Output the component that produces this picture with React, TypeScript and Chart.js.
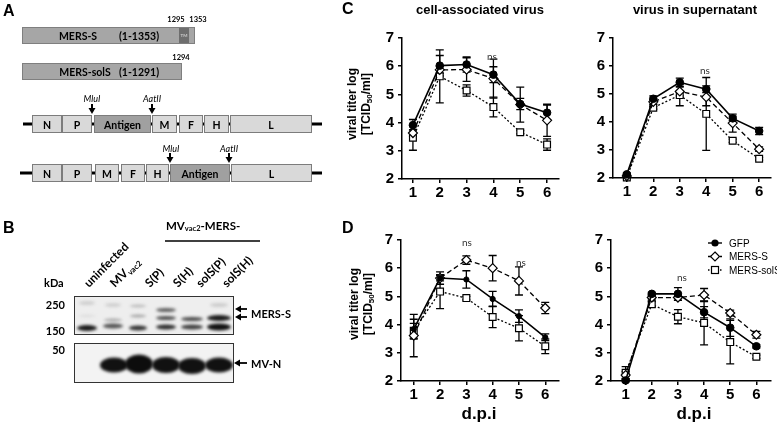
import React, { useEffect, useRef } from "react";
import { Chart, registerables } from "chart.js";
Chart.register(...registerables);

// ---------- data ----------
const days = [1, 2, 3, 4, 5, 6];
const yTickValues = [2, 3, 4, 5, 6, 7];
const seriesNames = ["GFP", "MERS-S", "MERS-solS"];

// C – cell-associated virus
const cCellGFP = [3.91, 6.02, 6.06, 5.7, 4.66, 4.35];
const cCellGFPErr = [0.2, 0.36, 0.27, 0.28, 0.2, 0.27];
const cCellS = [3.63, 5.87, 5.88, 5.56, 4.64, 4.08];
const cCellSErr = [0.12, 0.12, 0.42, 0.69, 0.62, 0.57];
const cCellSol = [3.46, 5.64, 5.14, 4.55, 3.66, 3.22];
const cCellSolErr = [0.44, 0.94, 0.2, 0.35, 0.06, 0.2];

// C – virus in supernatant
const cSupGFP = [2.13, 4.83, 5.42, 5.17, 4.13, 3.68];
const cSupGFPErr = [0.05, 0.1, 0.15, 0.12, 0.08, 0.13];
const cSupS = [2.07, 4.72, 5.09, 4.89, 3.96, 3.03];
const cSupSErr = [0.05, 0.08, 0.16, 0.31, 0.32, 0.08];
const cSupSol = [2.02, 4.51, 4.96, 4.29, 3.33, 2.69];
const cSupSolErr = [0.05, 0.05, 0.38, 1.3, 0.06, 0.05];

// D – cell-associated virus
const dCellGFP = [3.84, 5.65, 5.6, 4.91, 4.3, 3.55];
const dCellGFPErr = [0.35, 0.22, 0.31, 0.27, 0.22, 0.12];
const dCellS = [3.61, 5.65, 6.29, 6.0, 5.55, 4.59];
const dCellSErr = [0.75, 0.1, 0.15, 0.45, 0.5, 0.2];
const dCellSol = [3.78, 5.17, 4.94, 4.27, 3.87, 3.23];
const dCellSolErr = [0.26, 0.6, 0.06, 0.38, 0.45, 0.26];

// D – virus in supernatant
const dSupGFP = [2.02, 5.09, 5.09, 4.44, 3.89, 3.23];
const dSupGFPErr = [0.05, 0.05, 0.22, 0.2, 0.31, 0.06];
const dSupS = [2.21, 4.96, 4.96, 5.05, 4.41, 3.64];
const dSupSErr = [0.12, 0.08, 0.1, 0.23, 0.1, 0.12];
const dSupSol = [2.29, 4.72, 4.28, 4.06, 3.38, 2.86];
const dSupSolErr = [0.22, 0.1, 0.25, 0.78, 0.77, 0.06];

const ARIAL = "'Liberation Sans', Arial, sans-serif";
const LATO = "Lato, 'Open Sans', sans-serif";

type Geo = {
  left: number; top: number; width: number; height: number;
  aL: number; aT: number; aR: number; aB: number; x1: number; x6: number;
};

const errorBarPlugin = {
  id: "errorBars",
  beforeDatasetsDraw(chart: any) {
    const ctx = chart.ctx;
    const xs = chart.scales.x;
    const ys = chart.scales.y;
    ctx.save();
    ctx.strokeStyle = "#000";
    ctx.lineWidth = 1.3;
    ctx.setLineDash([]);
    chart.data.datasets.forEach((ds: any) => {
      ds.data.forEach((p: any, i: number) => {
        const e = ds.errors[i];
        if (!e) return;
        const x = xs.getPixelForValue(p.x);
        const y1 = ys.getPixelForValue(p.y + e);
        const y2 = ys.getPixelForValue(p.y - e);
        ctx.beginPath();
        ctx.moveTo(x, y1);
        ctx.lineTo(x, y2);
        ctx.moveTo(x - 4, y1);
        ctx.lineTo(x + 4, y1);
        ctx.moveTo(x - 4, y2);
        ctx.lineTo(x + 4, y2);
        ctx.stroke();
      });
    });
    ctx.restore();
  },
};

function LineChart(props: {
  geo: Geo; gfp: number[]; gfpErr: number[]; s: number[]; sErr: number[];
  sol: number[]; solErr: number[]; dot: number;
}) {
  const ref = useRef<HTMLCanvasElement>(null);
  const { geo } = props;
  useEffect(() => {
    const ppu = (geo.x6 - geo.x1) / 5;
    const xMin = 1 - (geo.x1 - geo.aL) / ppu;
    const xMax = 6 + (geo.aR - geo.x6) / ppu;
    const mk = (vals: number[]) => days.map((d, i) => ({ x: d, y: vals[i] }));
    const tickFont = { family: ARIAL, size: 15, weight: "bold" as const };
    const grid = {
      display: true, drawOnChartArea: false, drawTicks: true, tickLength: 4,
      color: "#000", lineWidth: 1.5,
    };
    const border = { display: true, color: "#000", width: 1.5 };
    const chart = new Chart(ref.current!, {
      type: "line",
      data: {
        datasets: [
          {
            label: seriesNames[0], data: mk(props.gfp), errors: props.gfpErr,
            borderColor: "#000", borderWidth: 1.6, pointStyle: "circle",
            pointRadius: props.dot, pointBackgroundColor: "#000", pointBorderColor: "#000",
            pointBorderWidth: 1, tension: 0, clip: false, fill: false,
          } as any,
          {
            label: seriesNames[1], data: mk(props.s), errors: props.sErr,
            borderColor: "#000", borderWidth: 1.3, borderDash: [5, 3], pointStyle: "rectRot",
            pointRadius: 4.5, pointBackgroundColor: "#fff", pointBorderColor: "#000",
            pointBorderWidth: 1.2, tension: 0, clip: false, fill: false,
          } as any,
          {
            label: seriesNames[2], data: mk(props.sol), errors: props.solErr,
            borderColor: "#000", borderWidth: 1.3, borderDash: [2, 2], pointStyle: "rect",
            pointRadius: 4.8, pointBackgroundColor: "#fff", pointBorderColor: "#000",
            pointBorderWidth: 1.2, tension: 0, clip: false, fill: false,
          } as any,
        ],
      },
      options: {
        animation: false,
        responsive: false,
        maintainAspectRatio: false,
        layout: {
          padding: { top: geo.aT - geo.top, right: geo.left + geo.width - geo.aR, left: 0, bottom: 0 },
        },
        plugins: { legend: { display: false }, tooltip: { enabled: false } },
        scales: {
          x: {
            type: "linear", min: xMin, max: xMax,
            afterBuildTicks: (sc: any) => { sc.ticks = days.map((v) => ({ value: v })); },
            afterFit: (sc: any) => { sc.height = geo.top + geo.height - geo.aB; },
            ticks: {
              font: tickFont, color: "#000", padding: 1, maxRotation: 0, autoSkip: false,
              callback: (v: any) => String(v),
            },
            grid, border,
          },
          y: {
            type: "linear", min: 2, max: 7,
            afterBuildTicks: (sc: any) => { sc.ticks = yTickValues.map((v) => ({ value: v })); },
            afterFit: (sc: any) => { sc.width = geo.aL - geo.left; },
            ticks: { font: tickFont, color: "#000", padding: 4, callback: (v: any) => String(v) },
            grid, border,
          },
        },
      } as any,
      plugins: [errorBarPlugin],
    });
    return () => chart.destroy();
  }, []);
  return (
    <canvas
      ref={ref}
      width={geo.width}
      height={geo.height}
      style={{ position: "absolute", left: geo.left, top: geo.top, width: geo.width, height: geo.height }}
    />
  );
}

function Blot() {
  const ref = useRef<HTMLCanvasElement>(null);
  useEffect(() => {
    const ctx = ref.current!.getContext("2d")!;
    ctx.fillStyle = "#fff";
    ctx.fillRect(0, 0, 160, 87);
    ctx.fillStyle = "#eeeeee";
    ctx.fillRect(0, 0, 160, 38);
    ctx.fillStyle = "#f3f3f3";
    ctx.fillRect(0, 47, 160, 40);
    const upper: [number, number, number, number, string][] = [
      [13, 7, 16, 4, "#cfcfcf"], [13, 20, 16, 3, "#dedede"], [13, 32, 20, 6, "#1a1a1a"],
      [39, 9, 16, 4, "#d0d0d0"], [39, 24, 18, 3, "#a8a8a8"], [39, 30, 20, 5, "#555"],
      [64, 10, 16, 3, "#bbbbbb"], [64, 20, 16, 3, "#a5a5a5"], [64, 32, 18, 5, "#333"],
      [92, 14, 20, 4, "#606060"], [92, 22, 20, 4, "#505050"], [92, 31, 20, 5, "#2d2d2d"],
      [118, 23, 22, 4, "#4a4a4a"], [118, 31, 22, 5, "#404040"],
      [145, 9, 18, 4, "#cccccc"], [145, 22, 24, 6, "#1a1a1a"], [145, 31, 24, 7, "#111"],
    ];
    const lower: [number, number, number, number, string][] = [
      [40, 69, 28, 15, "#111"], [65, 68, 28, 19, "#0d0d0d"], [92, 69, 28, 16, "#111"],
      [118, 70, 28, 16, "#111"], [145, 69, 28, 15, "#111"],
    ];
    const draw = (list: [number, number, number, number, string][], y0: number, h: number) => {
      ctx.save();
      ctx.beginPath();
      ctx.rect(0, y0, 160, h);
      ctx.clip();
      ctx.filter = "blur(1.6px)";
      for (const [x, y, w, hh, c] of list) {
        ctx.fillStyle = c;
        ctx.beginPath();
        ctx.ellipse(x, y, w / 2, hh / 2, 0, 0, Math.PI * 2);
        ctx.fill();
      }
      ctx.restore();
    };
    draw(upper, 0, 38);
    draw(lower, 47, 40);
  }, []);
  return (
    <canvas ref={ref} width={160} height={87}
      style={{ position: "absolute", left: 74, top: 296, width: 160, height: 87 }} />
  );
}

function T(p: any) {
  const { x, y, size, bold, italic, anchor, fam, fill, children, ...rest } = p;
  return (
    <text x={x} y={y} fontSize={size} fontWeight={bold ? "bold" : "normal"}
      fontStyle={italic ? "italic" : "normal"} textAnchor={anchor || "middle"}
      dominantBaseline="central" fontFamily={fam || LATO} fill={fill || "#000"} {...rest}>
      {children}
    </text>
  );
}

type GBox = [string, number, number, boolean];
function GenomeRow({ y, lx1, boxes }: { y: number; lx1: number; boxes: GBox[] }) {
  return (
    <g>
      <line x1={lx1} x2={322} y1={y + 9} y2={y + 9} stroke="#000" strokeWidth={3} />
      {boxes.map(([lab, a, b, dark]) => (
        <g key={lab}>
          <rect x={a + 0.5} y={y + 0.5} width={b - a} height={17}
            fill={dark ? "#a0a0a0" : "#d9d9d9"} stroke="#7c7c7c" strokeWidth={1} />
          <T x={(a + b) / 2 + 0.5} y={y + 9.5} size={10.5} bold>{lab}</T>
        </g>
      ))}
    </g>
  );
}

function DownArrow({ x, y1, y2 }: { x: number; y1: number; y2: number }) {
  return (
    <g>
      <line x1={x} x2={x} y1={y1} y2={y2 - 5} stroke="#000" strokeWidth={2} />
      <polygon points={`${x - 3.5},${y2 - 6} ${x + 3.5},${y2 - 6} ${x},${y2}`} fill="#000" />
    </g>
  );
}

function LeftArrow({ x1, x2, y }: { x1: number; x2: number; y: number }) {
  return (
    <g>
      <line x1={x1 + 5} x2={x2} y1={y} y2={y} stroke="#000" strokeWidth={1.8} />
      <polygon points={`${x1},${y} ${x1 + 6},${y - 3.5} ${x1 + 6},${y + 3.5}`} fill="#000" />
    </g>
  );
}

function YTitle({ cx, cy }: { cx: number; cy: number }) {
  return (
    <g>
      <text transform={`translate(${cx - 7},${cy}) rotate(-90)`} textAnchor="middle"
        dominantBaseline="central" fontFamily={ARIAL} fontWeight="bold" fontSize={12}>
        viral titer log
      </text>
      <text transform={`translate(${cx + 7},${cy}) rotate(-90)`} textAnchor="middle"
        dominantBaseline="central" fontFamily={ARIAL} fontWeight="bold" fontSize={12}>
        [TCID<tspan fontSize={8} dy={3}>50</tspan><tspan dy={-3}>/ml]</tspan>
      </text>
    </g>
  );
}

function Legend({ x, y }: { x: number; y: number }) {
  const rows = [0, 13.5, 27];
  return (
    <g>
      {seriesNames.map((n, i) => {
        const yy = y + rows[i];
        const dash = i === 0 ? undefined : i === 1 ? "4,2" : "1.5,1.5";
        return (
          <g key={n}>
            <line x1={x} x2={x + 14} y1={yy} y2={yy} stroke="#000" strokeWidth={1.4} strokeDasharray={dash} />
            {i === 0 && <circle cx={x + 7} cy={yy} r={3.6} fill="#000" />}
            {i === 1 && (
              <polygon points={`${x + 7},${yy - 4.5} ${x + 11.5},${yy} ${x + 7},${yy + 4.5} ${x + 2.5},${yy}`}
                fill="#fff" stroke="#000" strokeWidth={1.2} />
            )}
            {i === 2 && <rect x={x + 3.5} y={yy - 3.5} width={7} height={7} fill="#fff" stroke="#000" strokeWidth={1.2} />}
            <T x={x + 21} y={yy} size={10} fam={ARIAL} anchor="start">{n}</T>
          </g>
        );
      })}
    </g>
  );
}

const geoCL: Geo = { left: 372, top: 25, width: 193, height: 180, aL: 402, aT: 35, aR: 560, aB: 179, x1: 413, x6: 548 };
const geoCR: Geo = { left: 586, top: 25, width: 191, height: 180, aL: 613, aT: 35, aR: 773, aB: 178, x1: 627, x6: 761 };
const geoDL: Geo = { left: 372, top: 227, width: 193, height: 180, aL: 401, aT: 237, aR: 562, aB: 381, x1: 414, x6: 548 };
const geoDR: Geo = { left: 586, top: 227, width: 191, height: 180, aL: 611, aT: 238, aR: 775, aB: 381, x1: 626, x6: 760 };

export default function App() {
  const laneLabels: [number, React.ReactNode][] = [
    [89, "uninfected"],
    [115, <>MV<tspan fontSize={8} dy={2.5}>vac2</tspan></>],
    [150, "S(P)"],
    [178, "S(H)"],
    [201, "solS(P)"],
    [227, "solS(H)"],
  ];
  return (
    <div style={{ position: "absolute", left: 0, top: 0, width: 777, height: 423, background: "#fff", overflow: "hidden" }}>
      <LineChart geo={geoCL} gfp={cCellGFP} gfpErr={cCellGFPErr} s={cCellS} sErr={cCellSErr} sol={cCellSol} solErr={cCellSolErr} dot={3.8} />
      <LineChart geo={geoCR} gfp={cSupGFP} gfpErr={cSupGFPErr} s={cSupS} sErr={cSupSErr} sol={cSupSol} solErr={cSupSolErr} dot={3.8} />
      <LineChart geo={geoDL} gfp={dCellGFP} gfpErr={dCellGFPErr} s={dCellS} sErr={dCellSErr} sol={dCellSol} solErr={dCellSolErr} dot={2.6} />
      <LineChart geo={geoDR} gfp={dSupGFP} gfpErr={dSupGFPErr} s={dSupS} sErr={dSupSErr} sol={dSupSol} solErr={dSupSolErr} dot={3.8} />
      <Blot />
      <svg width={777} height={423} style={{ position: "absolute", left: 0, top: 0, pointerEvents: "none" }}>
        {/* Panel A */}
        <T x={3} y={10} size={16} bold fam={ARIAL} anchor="start">A</T>
        <T x={176} y={19} size={7.5} bold>1295</T>
        <T x={198} y={19} size={7.5} bold>1353</T>
        <rect x={22.5} y={27.5} width={172} height={16} fill="#a6a6a6" stroke="#7f7f7f" />
        <rect x={179} y={28} width={10} height={15} fill="#6e6e6e" />
        <T x={184} y={35.5} size={4.5} fill="#cfcfcf" bold>TM</T>
        <T x={78} y={35.5} size={10.5} bold>MERS-S</T>
        <T x={139} y={35.5} size={10.5} bold>(1-1353)</T>
        <T x={181} y={57} size={7.5} bold>1294</T>
        <rect x={22.5} y={63.5} width={159} height={16} fill="#a6a6a6" stroke="#7f7f7f" />
        <T x={85} y={71.5} size={10.5} bold>MERS-solS</T>
        <T x={139} y={71.5} size={10.5} bold>(1-1291)</T>

        <T x={92} y={98} size={9} italic>MluI</T>
        <T x={152} y={98} size={9} italic>AatII</T>
        <DownArrow x={92} y1={104} y2={114} />
        <DownArrow x={152} y1={104} y2={114} />
        <GenomeRow y={115} lx1={23} boxes={[
          ["N", 32, 61, false], ["P", 62, 91, false], ["Antigen", 94, 150, true],
          ["M", 152, 176, false], ["F", 179, 202, false], ["H", 204, 228, false], ["L", 230, 311, false],
        ]} />
        <T x={171} y={148} size={9} italic>MluI</T>
        <T x={229} y={148} size={9} italic>AatII</T>
        <DownArrow x={170} y1={153} y2={163} />
        <DownArrow x={229} y1={153} y2={163} />
        <GenomeRow y={164} lx1={20} boxes={[
          ["N", 32, 61, false], ["P", 62, 91, false], ["M", 95, 118, false],
          ["F", 121, 144, false], ["H", 146, 168, false], ["Antigen", 170, 229, true], ["L", 231, 311, false],
        ]} />

        {/* Panel B */}
        <T x={3} y={227} size={16} bold fam={ARIAL} anchor="start">B</T>
        <text x={166} y={225} fontSize={11.5} fontWeight="bold" fontFamily={LATO} dominantBaseline="central">
          MV<tspan fontSize={7.5} dy={3}>vac2</tspan><tspan dy={-3}>-MERS-</tspan>
        </text>
        <line x1={165} x2={260} y1={241} y2={241} stroke="#000" strokeWidth={1.3} />
        {laneLabels.map(([x, lab], i) => (
          <text key={i} transform={`translate(${x},288) rotate(-45)`} fontSize={12} fontWeight="bold" fontFamily={LATO}>
            {lab}
          </text>
        ))}
        <T x={44} y={282} size={11} bold anchor="start">kDa</T>
        <T x={65} y={304} size={11} bold anchor="end">250</T>
        <T x={65} y={330} size={11} bold anchor="end">150</T>
        <T x={65} y={349} size={11} bold anchor="end">50</T>
        <rect x={74.5} y={296.5} width={159} height={38} fill="none" stroke="#333" />
        <rect x={74.5} y={343.5} width={159} height={39} fill="none" stroke="#333" />
        <LeftArrow x1={235} x2={247} y={309} />
        <LeftArrow x1={235} x2={247} y={317} />
        <LeftArrow x1={234} x2={247} y={363} />
        <T x={251} y={313} size={11} bold anchor="start">MERS-S</T>
        <T x={251} y={363} size={11} bold anchor="start">MV-N</T>

        {/* Panels C, D */}
        <T x={342} y={8} size={16} bold fam={ARIAL} anchor="start">C</T>
        <T x={342} y={227} size={16} bold fam={ARIAL} anchor="start">D</T>
        <T x={480} y={9} size={13} bold fam={ARIAL}>cell-associated virus</T>
        <T x={695} y={9} size={13} bold fam={ARIAL}>virus in supernatant</T>
        <YTitle cx={359} cy={104} />
        <YTitle cx={361} cy={304} />
        <T x={479} y={413} size={17} bold fam={ARIAL}>d.p.i</T>
        <T x={694} y={413} size={17} bold fam={ARIAL}>d.p.i</T>
        <T x={492} y={56} size={10} fill="#333">ns</T>
        <T x={705} y={70} size={10} fill="#333">ns</T>
        <T x={467} y={242} size={10} fill="#333">ns</T>
        <T x={521} y={262} size={10} fill="#333">ns</T>
        <T x={682} y={277} size={10} fill="#333">ns</T>
        <Legend x={708} y={243} />
      </svg>
    </div>
  );
}
